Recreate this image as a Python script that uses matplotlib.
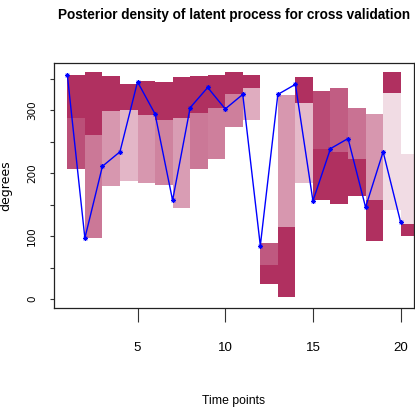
"""Posterior density of latent process for cross validation (R-style recreation)."""
import matplotlib
matplotlib.use('Agg')
import matplotlib.pyplot as plt
from matplotlib import font_manager as fm

# time points and posterior summary per time point
times = list(range(1, 21))
# each time point has two stacked segments: [lower, mid] and [mid, upper]
seg_lower = [207, 97, 180, 187, 185, 181, 145, 207, 223, 273, 284, 24, 3, 184, 158, 151, 164, 92, 142, 101]
seg_mid = [287, 260, 298, 301, 292, 285, 287, 296, 303, 326, 335, 55, 114, 311, 239, 234, 222, 158, 328, 119]
seg_upper = [356, 360, 354, 342, 347, 345, 352, 354, 356, 360, 356, 89, 324, 352, 330, 335, 303, 294, 360, 231]
# relative posterior density of the lower / upper segment
dens_low = [0.85, 0.65, 0.5, 0.35, 0.5, 0.6, 0.47, 0.65, 0.62, 0.62, 0.4, 1, 1, 0.33, 1, 1, 1, 1, 0.17, 1]
dens_high = [1, 1, 1, 1, 1, 1, 1, 1, 1, 1, 1, 0.8, 0.5, 1, 0.87, 0.78, 0.68, 0.5, 1, 0.17]
# held-out observations
observed = [356, 97, 211, 234, 345, 294, 157, 304, 336, 302, 325, 85, 325, 341, 156, 239, 255, 146, 234, 122]

MAROON = "#B03060"

names = {f.name for f in fm.fontManager.ttflist}
if 'Liberation Sans Narrow' in names:
    NARROW = 'Liberation Sans Narrow'
    t_size, x_size, l_size = 11.5, 10.5, 10
else:
    NARROW = 'Liberation Sans'
    t_size, x_size, l_size = 9.8, 9.5, 8.8

fig = plt.figure(figsize=(4.15, 4.15), dpi=100)
ax = fig.add_axes([54 / 415, 1 - 308.3 / 415, 360 / 415, 245 / 415])

for t, lo, mid, hi, dl, dh in zip(times, seg_lower, seg_mid, seg_upper, dens_low, dens_high):
    ax.bar(t, mid - lo, width=1, bottom=lo, align='edge', color=MAROON, alpha=dl, linewidth=0)
    ax.bar(t, hi - mid, width=1, bottom=mid, align='edge', color=MAROON, alpha=dh, linewidth=0)

ax.plot(times, observed, color='blue', lw=1, marker=(8, 2, 0), ms=3.5, mew=0.6)

ax.set_xlim(0.24, 20.76)
ax.set_ylim(-14.4, 374.4)
ax.set_xticks([5, 10, 15, 20])
ax.set_xticklabels(['5', '10', '15', '20'], family=NARROW, fontsize=x_size)
ax.set_yticks(range(0, 351, 50))
ax.set_yticklabels(['0', '', '100', '', '200', '', '300', ''], rotation=90, va='center',
                   family='DejaVu Sans', fontsize=7.5)
ax.tick_params(axis='x', length=10, width=0.8, pad=14, color='#333333')
ax.tick_params(axis='y', length=3.2, width=0.8, pad=9, color='#333333')
for s in ax.spines.values():
    s.set_color('#222222')
    s.set_linewidth(0.9)

fig.text(234 / 415, 1 - 15 / 415, "Posterior density of latent process for cross validation",
         ha='center', va='center', family=NARROW, fontweight='bold', fontsize=t_size)
fig.text(234 / 415, 1 - 401 / 415, "Time points", ha='center', va='center',
         family=NARROW, fontsize=l_size)
fig.text(6 / 415, 1 - 186 / 415, "degrees", ha='center', va='center', rotation=90,
         family='DejaVu Sans', fontsize=9)

plt.savefig("out.png", dpi=100)
plt.close()
